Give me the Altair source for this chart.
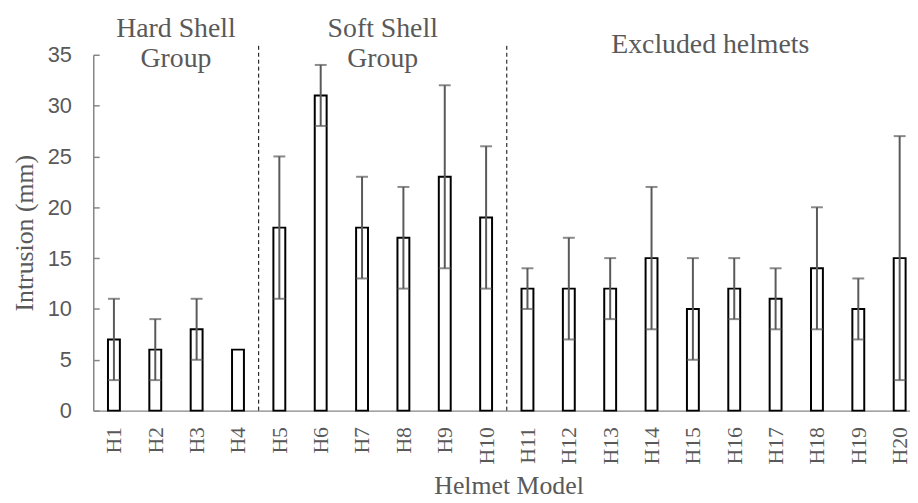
import altair as alt
import pandas as pd

models = ["H1", "H2", "H3", "H4", "H5", "H6", "H7", "H8", "H9", "H10",
          "H11", "H12", "H13", "H14", "H15", "H16", "H17", "H18", "H19", "H20"]
intrusion = [7, 6, 8, 6, 18, 31, 18, 17, 23, 19,
             12, 12, 12, 15, 10, 12, 11, 14, 10, 15]
err_low = [3, 3, 5, None, 11, 28, 13, 12, 14, 12,
           10, 7, 9, 8, 5, 9, 8, 8, 7, 3]
err_high = [11, 9, 11, None, 25, 34, 23, 22, 32, 26,
            14, 17, 15, 22, 15, 15, 14, 20, 13, 27]

group_text = ["Hard Shell", "Group", "Soft Shell", "Group", "Excluded helmets"]
group_pos = [1.5, 1.5, 6.5, 6.5, 14.42]
group_level = [36.7, 33.8, 36.7, 33.8, 35.2]

separators = [3.5, 9.5]

GRAY = "#595959"
AXGRAY = "#868686"
SERIF = "Liberation Serif"
SANS = "Liberation Sans"

df = pd.DataFrame({
    "model": models,
    "idx": list(range(len(models))),
    "value": intrusion,
    "lo": err_low,
    "hi": err_high,
})
ann = pd.DataFrame({"text": group_text, "idx": group_pos, "y": group_level})
sep = pd.DataFrame({"idx": separators})

W = 824
H = 359

label_expr = "[" + ",".join(f"'{m}'" for m in models) + "][datum.value]"

# the original figure ends just past the last bar
xscale = alt.Scale(domain=[-0.5, 19.25], nice=False, zero=False, padding=0)
yscale = alt.Scale(domain=[0, 35], nice=False, padding=0)

xaxis = alt.Axis(
    values=list(range(len(models))), labelExpr=label_expr, title="Helmet Model",
    labelAngle=270, labelFont=SERIF, labelFontSize=22, labelColor=GRAY,
    labelPadding=16, ticks=False, tickSize=0, grid=False,
    domain=True, domainColor=AXGRAY, domainWidth=1.5,
    titleFont=SERIF, titleFontSize=26, titleFontWeight="normal", titleColor=GRAY,
    titleBaseline="alphabetic", titleY=84, titleX=419, labelOverlap=False,
)

yaxis_left = alt.Axis(
    values=[0, 5, 10, 15, 20, 25, 30, 35], title="Intrusion (mm)", ticks=False, tickSize=0,
    labelFont=SANS, labelFontSize=22, labelColor=GRAY, labelPadding=22, grid=False,
    domain=True, domainColor=AXGRAY, domainWidth=1.5,
    titleFont=SERIF, titleFontSize=26, titleFontWeight="normal", titleColor=GRAY,
    titleAngle=270, titleX=-69, titleY=H / 2, titleBaseline="middle", titleAlign="center",
)

yaxis_ticks = alt.Axis(
    orient="right", offset=-W, values=[0, 5, 10, 15, 20, 25, 30, 35], title=None,
    labels=False, domain=False, ticks=True, tickSize=6, tickColor=AXGRAY,
    tickWidth=1.5, grid=False,
)


def X(field="idx:Q"):
    return alt.X(field, scale=xscale, axis=xaxis)


base = alt.Chart(df)

bars = base.mark_bar(width=12, fill="white", stroke="black", strokeWidth=2).encode(
    x=X(),
    y=alt.Y("value:Q", scale=yscale, axis=yaxis_left),
)

errs = base.transform_filter("isValid(datum.lo)")

stems = errs.mark_rule(color=GRAY, strokeWidth=2).encode(
    x=X(),
    y=alt.Y("lo:Q", scale=yscale, axis=yaxis_ticks),
    y2="hi:Q",
)
cap_lo = errs.mark_tick(color=GRAY, orient="horizontal", size=12, thickness=2).encode(
    x=X(),
    y=alt.Y("lo:Q", scale=yscale, axis=None),
)
cap_hi = errs.mark_tick(color=GRAY, orient="horizontal", size=12, thickness=2).encode(
    x=X(),
    y=alt.Y("hi:Q", scale=yscale, axis=None),
)

seps = alt.Chart(sep).mark_rule(color="black", strokeWidth=1, strokeDash=[4, 3]).encode(
    x=X(),
    y=alt.datum(0, scale=yscale, axis=None),
    y2=alt.datum(36),
)

texts = alt.Chart(ann).mark_text(
    font=SERIF, fontSize=28, color=GRAY, align="center", baseline="alphabetic"
).encode(
    x=X(),
    y=alt.Y("y:Q", scale=yscale, axis=None),
    text="text:N",
)

chart = alt.layer(bars, stems, cap_lo, cap_hi, seps, texts).resolve_axis(
    y="independent"
).properties(
    width=W, height=H,
    autosize=alt.AutoSizeParams(type="none"),
    padding={"left": 86, "top": 45, "right": 0, "bottom": 91},
).configure_view(stroke=None)

chart.save("out.html", embed_options={"renderer": "svg", "actions": False})
